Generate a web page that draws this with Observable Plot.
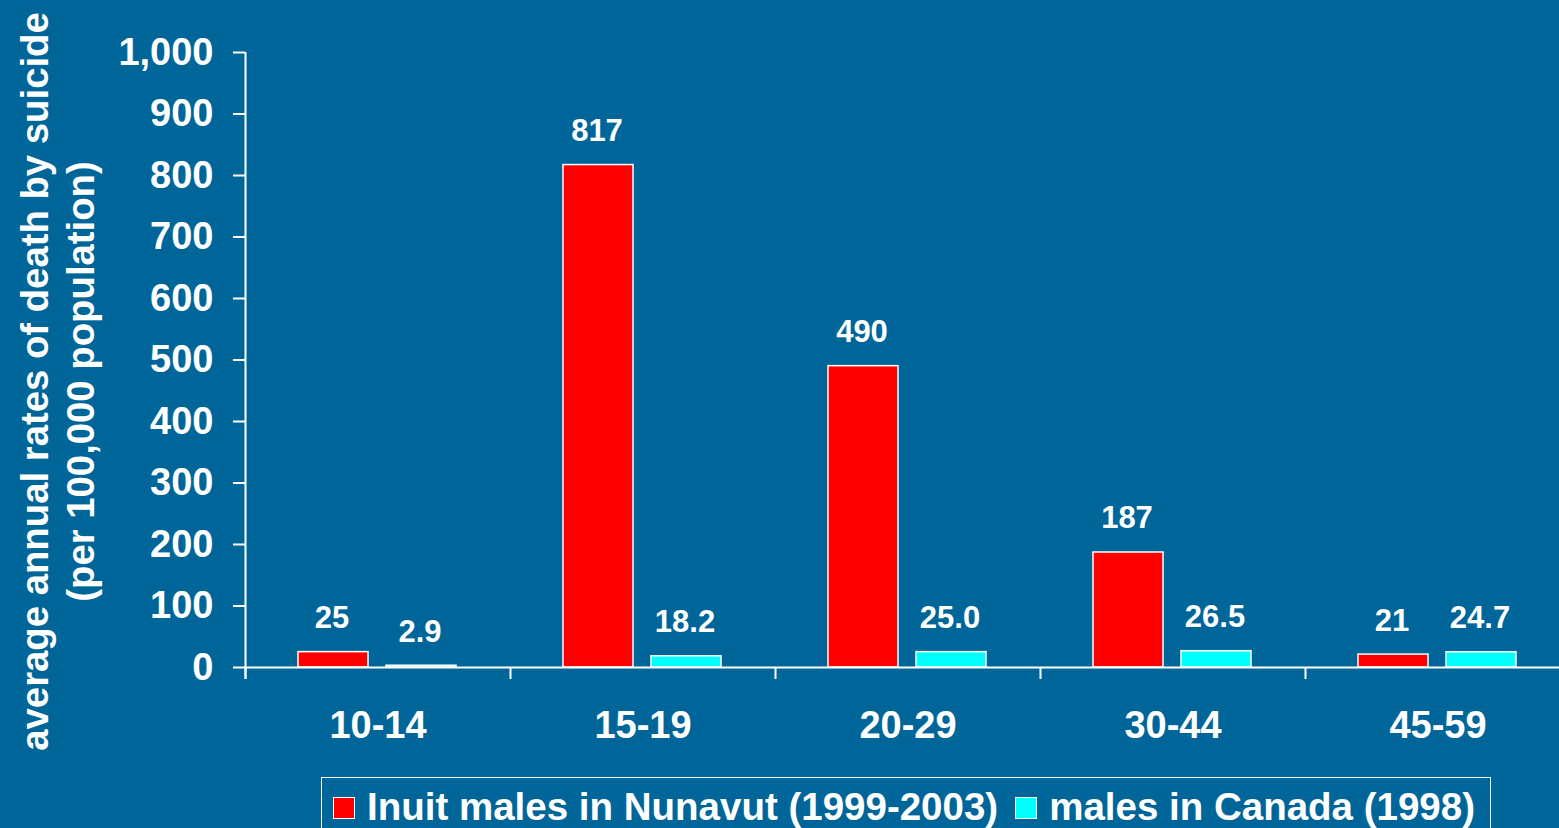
<!DOCTYPE html>
<html>
<head>
<meta charset="utf-8">
<script src="https://cdn.jsdelivr.net/npm/d3@7"></script>
<script src="https://cdn.jsdelivr.net/npm/@observablehq/plot@0.6"></script>
<style>
html, body { margin: 0; padding: 0; background: #006699; overflow: hidden; width: 1559px; height: 828px; }
#wrap { position: relative; width: 1559px; height: 828px; overflow: hidden; font-family: "Liberation Sans", Arial, sans-serif; font-weight: bold; color: #fff; }
#chart { width: 1570px; }
#chart svg { display: block; max-width: none !important; }
#legend { position: absolute; left: 321px; top: 777px; width: 1170px; height: 90px; border: 1.5px solid #fff; box-sizing: border-box; padding: 10px 0 0 11px; display: flex; align-items: flex-start; }
.item { display: flex; align-items: center; font-size: 38.5px; line-height: 38px; white-space: nowrap; margin-right: 17px; }
.sw { width: 20px; height: 20px; border: 1.5px solid #fff; margin-right: 12px; margin-top: 2px; }
</style>
</head>
<body>
<div id="wrap">
  <div id="chart"></div>
  <div id="legend"></div>
</div>
<script>
const ages = ["10-14", "15-19", "20-29", "30-44", "45-59"];
const inuit = [25, 817, 490, 187, 21];
const canada = [2.9, 18.2, 25.0, 26.5, 24.7];
const series = ["Inuit males in Nunavut (1999-2003)", "males in Canada (1998)"];
const colors = ["#ff0000", "#00ffff"];
const yTicks = [0, 100, 200, 300, 400, 500, 600, 700, 800, 900, 1000];
const titleLines = ["average annual rates of death by suicide", "(per 100,000 population)"];

const rows = ages.map((age, i) => ({age, inuit: inuit[i], canada: canada[i]}));

const chart = Plot.plot({
  width: 1570,
  height: 770,
  marginLeft: 245,
  marginRight: 0,
  marginTop: 52,
  marginBottom: 103,
  style: {background: "transparent", color: "white", fontFamily: "'Liberation Sans', Arial, sans-serif", fontWeight: "bold", maxWidth: "none"},
  x: {domain: ages, paddingInner: 0, paddingOuter: 0, axis: null},
  y: {domain: [0, 1000], axis: null},
  marks: [
    Plot.barY(rows, {x: "age", y: "inuit", fill: colors[0], stroke: "white", strokeWidth: 1.5, insetLeft: 53, insetRight: 142}),
    Plot.barY(rows, {x: "age", y: "canada", fill: colors[1], stroke: "white", strokeWidth: 1.5, insetLeft: 141, insetRight: 54}),
    Plot.ruleY([0], {stroke: "white", strokeWidth: 2}),
    Plot.ruleX(ages.slice(0, 1), {x: d => d, dx: -132.5, stroke: "white", strokeWidth: 2, insetBottom: -12}),
    Plot.ruleX(ages, {x: d => d, y1: 0, y2: 0, dx: -132.5, stroke: "white", strokeWidth: 2, insetBottom: -12}),
    Plot.axisY({ticks: yTicks, tickFormat: d3.format(","), tickSize: 12, tickPadding: 20, fontSize: 38, fontWeight: "bold", strokeWidth: 2, label: null}),
    Plot.axisX({tickSize: 0, tickPadding: 44, fontSize: 38, fontWeight: "bold", label: null}),
    Plot.text(rows, {x: "age", y: "inuit", text: d => d3.format("d")(d.inuit), dx: -46, dy: -34, fontSize: 31, fontWeight: "bold", fill: "white"}),
    Plot.text(rows, {x: "age", y: "canada", text: d => d3.format(".1f")(d.canada), dx: 42, dy: -34, fontSize: 31, fontWeight: "bold", fill: "white"}),
    Plot.text([titleLines.join("\n")], {frameAnchor: "left", text: d => d, rotate: -90, textAnchor: "middle", lineAnchor: "middle", dx: -189.5, dy: 21.5, fontSize: 38.3, fontWeight: "bold", fill: "white", lineHeight: 1.2})
  ]
});
document.getElementById("chart").appendChild(chart);

const legend = document.getElementById("legend");
series.forEach((s, i) => {
  const item = document.createElement("div");
  item.className = "item";
  const sw = document.createElement("div");
  sw.className = "sw";
  sw.style.background = colors[i];
  const label = document.createElement("span");
  label.textContent = s;
  item.appendChild(sw);
  item.appendChild(label);
  legend.appendChild(item);
});
</script>
</body>
</html>
